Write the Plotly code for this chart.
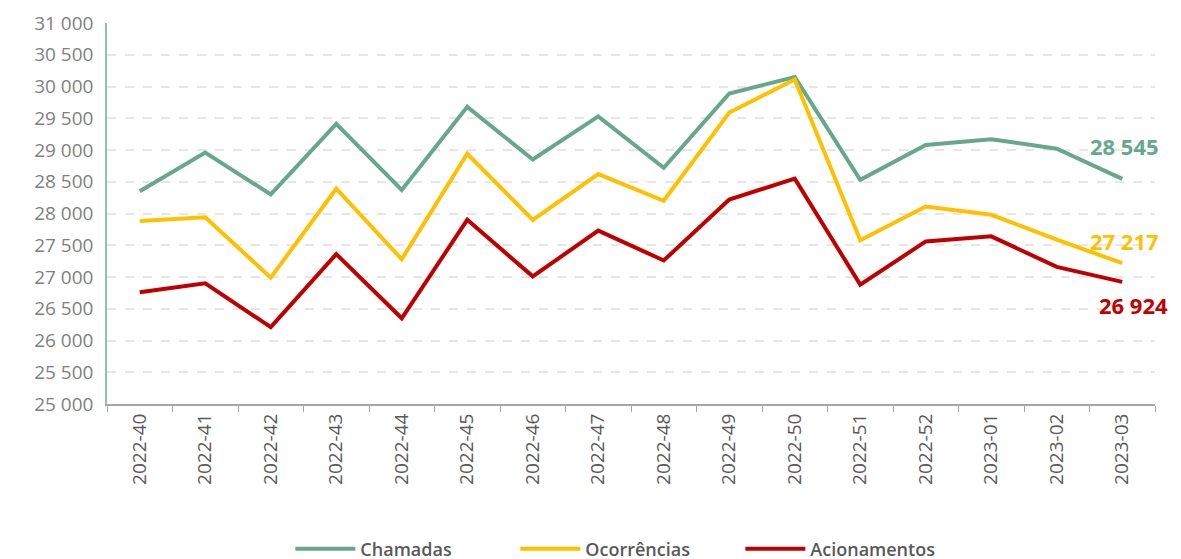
import plotly.graph_objects as go

weeks = ["2022-40", "2022-41", "2022-42", "2022-43", "2022-44", "2022-45", "2022-46", "2022-47",
         "2022-48", "2022-49", "2022-50", "2022-51", "2022-52", "2023-01", "2023-02", "2023-03"]
chamadas = [28350, 28960, 28300, 29410, 28370, 29680, 28850, 29530,
            28720, 29890, 30150, 28530, 29080, 29170, 29020, 28545]
ocorrencias = [27880, 27940, 26990, 28390, 27280, 28940, 27900, 28620,
               28200, 29590, 30110, 27580, 28110, 27980, 27590, 27217]
acionamentos = [26760, 26900, 26210, 27360, 26350, 27900, 27010, 27730,
                27260, 28220, 28550, 26880, 27560, 27640, 27160, 26924]

series = [("Chamadas", chamadas, "#67A78C"),
          ("Ocorrências", ocorrencias, "#FFC000"),
          ("Acionamentos", acionamentos, "#C00000")]

fig = go.Figure()
for name, vals, col in series:
    fig.add_trace(go.Scatter(x=weeks, y=vals, name=name, mode="lines",
                             line=dict(color=col, width=4)))

# end labels
label_offsets = {"Chamadas": (2, 33), "Ocorrências": (2, 22), "Acionamentos": (11, -23)}
for name, vals, col in series:
    dx, dy = label_offsets[name]
    fig.add_annotation(x=weeks[-1], y=vals[-1], text=f"<b>{vals[-1]:,}</b>".replace(",", " "),
                       showarrow=False, xshift=dx, yshift=dy,
                       font=dict(color=col, size=22, family="Open Sans"))

fig.update_layout(
    width=1181, height=559,
    margin=dict(l=99, r=34, t=15, b=163, autoexpand=False),
    paper_bgcolor="white", plot_bgcolor="white",
    separators=", ",
    font=dict(family="Open Sans", color="#595959"),
    showlegend=True,
    legend=dict(orientation="h", x=0.497, xanchor="center", yref="container",
                y=0.032, yanchor="middle", entrywidth=150,
                font=dict(size=18, color="#595959", weight=600), itemwidth=60),
    xaxis=dict(type="category", tickangle=-90, tickson="boundaries",
               ticks="outside", ticklen=6, tickcolor="#A6A6A6",
               showline=True, linecolor="#A6A6A6", linewidth=2,
               showgrid=False, tickfont=dict(size=19, color="#595959"),
               range=[-0.5, len(weeks) - 0.5]),
    yaxis=dict(range=[25000, 31000], dtick=500, tickformat=",d",
               showline=True, linecolor="#8FC1AC", linewidth=1.5,
               showgrid=True, gridcolor="#E6E6E6", griddash="dash", gridwidth=1.5,
               zeroline=False, ticks="", tickfont=dict(size=19, color="#7F7F7F"),
               ticklabelstandoff=8),
)

fig.write_html("out.html")
